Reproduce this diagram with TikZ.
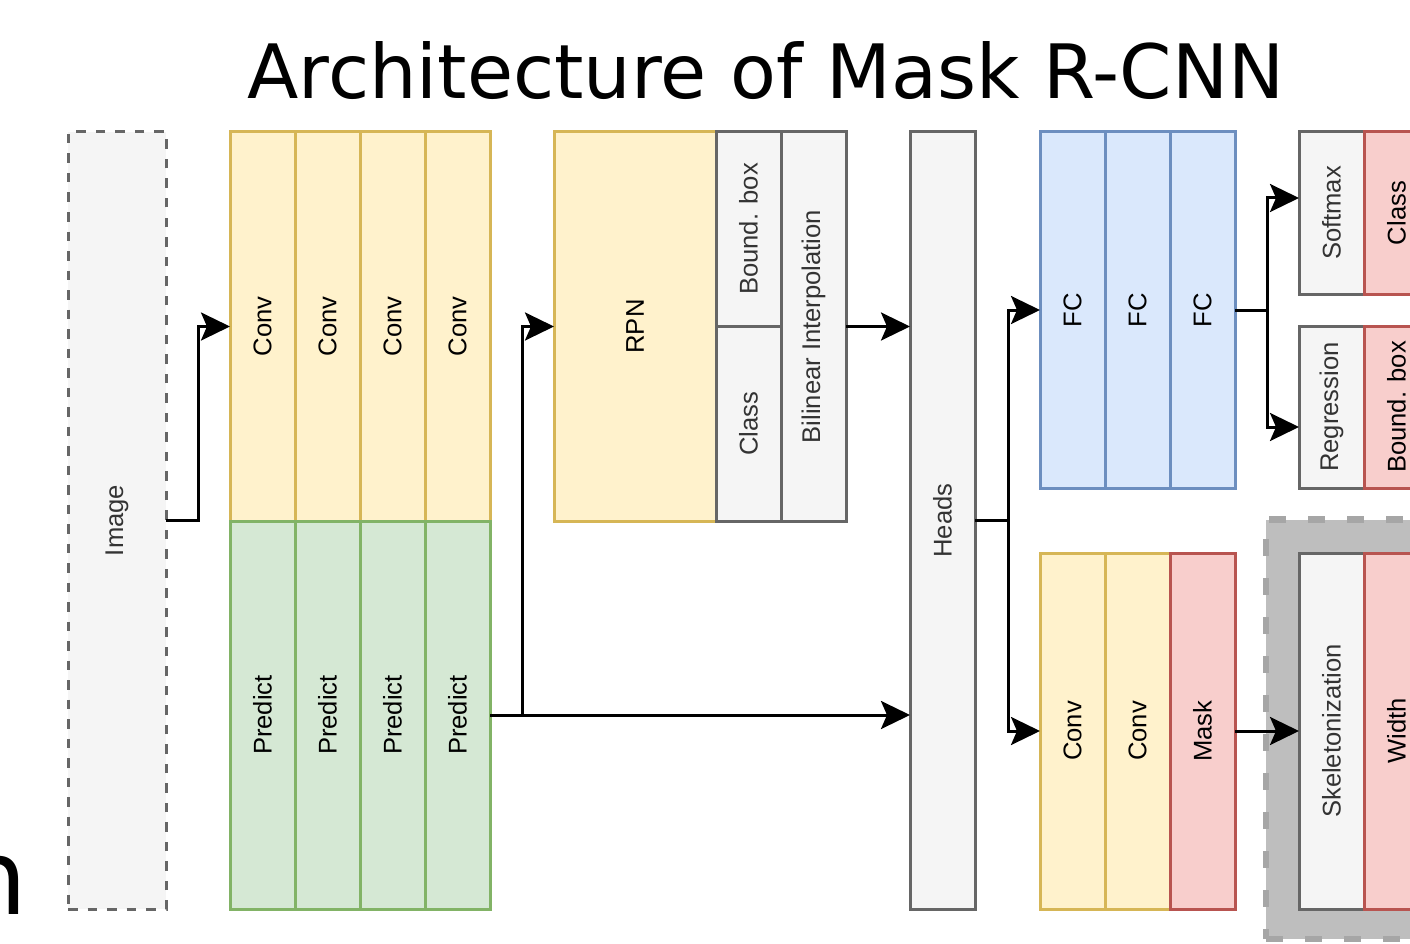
\documentclass[tikz,border=0pt]{standalone}
\usepackage{graphicx}
\usepackage{fontspec}
\setmainfont{Liberation Sans}
\newfontfamily\titlefont{DejaVu Sans}
\usetikzlibrary{arrows.meta,calc}

\definecolor{yfill}{HTML}{FFF2CC}\definecolor{ydraw}{HTML}{D6B656}
\definecolor{gfill}{HTML}{D5E8D4}\definecolor{gdraw}{HTML}{82B366}
\definecolor{nfill}{HTML}{F5F5F5}\definecolor{ndraw}{HTML}{666666}
\definecolor{bfill}{HTML}{DAE8FC}\definecolor{bdraw}{HTML}{6C8EBF}
\definecolor{rfill}{HTML}{F8CECC}\definecolor{rdraw}{HTML}{B85450}
\definecolor{grpfill}{HTML}{BEBEBE}\definecolor{grpdraw}{HTML}{A6A6A6}
\definecolor{txtgray}{HTML}{333333}

\newcommand\vtext[1]{\rotatebox{90}{#1}}

\begin{document}
\begin{tikzpicture}[x=1pt,y=-1pt,
  cell/.style 2 args={rectangle, draw, line width=3pt, outer sep=0pt, inner sep=0pt,
    minimum width=#1, minimum height=#2, font=\fontsize{25.6}{30}\selectfont},
  ybox/.style={fill=yfill, draw=ydraw},
  gbox/.style={fill=gfill, draw=gdraw},
  nbox/.style={fill=nfill, draw=ndraw, text=txtgray},
  bbox/.style={fill=bfill, draw=bdraw},
  rbox/.style={fill=rfill, draw=rdraw},
  arr/.style={draw=black, line width=3pt, -{Stealth[length=29pt,width=28pt,inset=6pt]}}]

\useasboundingbox (0,0) rectangle (1410,944);
\clip (0,0) rectangle (1410,944);

% title and the trailing letter of a neighbouring heading
\node[anchor=base, inner sep=0pt, font=\titlefont\fontsize{75}{90}\selectfont] (title) at (766,99) {Architecture of Mask R-CNN};
\node[anchor=base west, inner sep=0pt, font=\titlefont\fontsize{104}{120}\selectfont] (frag) at (-39,914) {n};

% input
\node[cell={98}{777}, nbox, dash pattern=on 9.5pt off 10pt] (img) at (117,520.5) {\vtext{Image}};

% backbone
\node[cell={65}{389}, ybox] (c1) at (262.5,326.5) {\vtext{Conv}};
\node[cell={65}{389}, ybox] (c2) at (327.5,326.5) {\vtext{Conv}};
\node[cell={65}{389}, ybox] (c3) at (392.5,326.5) {\vtext{Conv}};
\node[cell={65}{389}, ybox] (c4) at (457.5,326.5) {\vtext{Conv}};
\node[cell={65}{388}, gbox] (p1) at (262.5,715) {\vtext{Predict}};
\node[cell={65}{388}, gbox] (p2) at (327.5,715) {\vtext{Predict}};
\node[cell={65}{388}, gbox] (p3) at (392.5,715) {\vtext{Predict}};
\node[cell={65}{388}, gbox] (p4) at (457.5,715) {\vtext{Predict}};

% region proposals
\node[cell={162}{389}, ybox] (rpn) at (635,326.5) {\vtext{RPN}};
\node[cell={65}{194}, nbox] (bbox1) at (748.5,229) {\vtext{Bound. box}};
\node[cell={65}{195}, nbox] (cls1) at (748.5,423.5) {\vtext{Class}};
\node[cell={65}{389}, nbox] (bil) at (813.5,326.5) {\vtext{Bilinear Interpolation}};

% heads
\node[cell={65}{777}, nbox] (heads) at (942.5,520.5) {\vtext{Heads}};

\node[cell={65}{356}, bbox] (fc1) at (1072.5,310) {\vtext{FC}};
\node[cell={65}{356}, bbox] (fc2) at (1137.5,310) {\vtext{FC}};
\node[cell={65}{356}, bbox] (fc3) at (1202.5,310) {\vtext{FC}};

\node[cell={65}{162}, nbox] (smax) at (1331.5,213) {\vtext{Softmax}};
\node[cell={65}{162}, rbox] (cls2) at (1396.5,213) {\vtext{Class}};
\node[cell={65}{162}, nbox] (reg) at (1331.5,407) {\vtext{Regression}};
\node[cell={65}{162}, rbox] (bbox2) at (1396.5,407) {\vtext{Bound. box}};

\node[cell={65}{356}, ybox] (c5) at (1072.5,731) {\vtext{Conv}};
\node[cell={65}{356}, ybox] (c6) at (1137.5,731) {\vtext{Conv}};
\node[cell={65}{356}, rbox] (mask) at (1202.5,731) {\vtext{Mask}};

% post-processing group
\node[rectangle, fill=grpfill, draw=grpdraw, line width=6.5pt, dash pattern=on 17pt off 22pt,
  minimum width=190, minimum height=419.5, inner sep=0pt, outer sep=0pt] (grp) at (1361,729.25) {};
\node[cell={65}{356}, nbox] (skel) at (1331.5,731) {\vtext{Skeletonization}};
\node[cell={65}{356}, rbox] (wid) at (1396.5,731) {\vtext{Width}};

% connectors
\draw[arr] (img.east) -- ++(32,0) |- (c1.west);
\draw[arr] (p4.east) -- (p4.east -| heads.west);
\draw[arr] ([xshift=32pt]p4.east) |- (rpn.west);
\draw[arr] (bil.east) -- (bil.east -| heads.west);
\draw[arr] (heads.east) -- ++(33,0) |- (fc1.west);
\draw[arr] (heads.east) -- ++(33,0) |- (c5.west);
\draw[arr] (fc3.east) -- ++(32,0) |- ([yshift=15pt]smax.west);
\draw[arr] (fc3.east) -- ++(32,0) |- ([yshift=-20pt]reg.west);
\draw[arr] (mask.east) -- (skel.west);
\end{tikzpicture}
\end{document}
